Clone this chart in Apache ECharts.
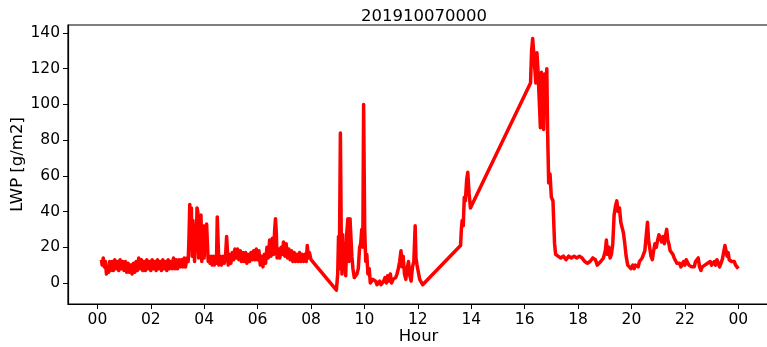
<!DOCTYPE html>
<html>
<head>
<meta charset="utf-8">
<script src="https://cdn.jsdelivr.net/npm/echarts@6/dist/echarts.min.js"></script>
<style>
  html, body { margin: 0; padding: 0; background: #fff; }
  #main { width: 767px; height: 347px; }
</style>
</head>
<body>
<div id="main"></div>
<script>
// time of day (hours) and LWP (g/m2)
const hours = [
  0.15, 0.18, 0.22, 0.26, 0.3, 0.34, 0.38, 0.42, 0.46, 0.5, 0.55, 0.6, 0.65, 0.7, 0.75, 0.8, 0.85, 0.9, 0.95,
  1.0, 1.05, 1.1, 1.15, 1.2, 1.25, 1.3, 1.35, 1.4, 1.45, 1.5, 1.55, 1.6, 1.65, 1.7, 1.75, 1.8, 1.85, 1.9, 1.95,
  2.0, 2.05, 2.1, 2.15, 2.2, 2.25, 2.3, 2.35, 2.4, 2.45, 2.5, 2.55, 2.6, 2.65, 2.7, 2.75, 2.8, 2.85, 2.9, 2.95,
  3.0, 3.05, 3.1, 3.15, 3.2, 3.25, 3.3, 3.35, 3.4,
  3.43, 3.46, 3.49, 3.52, 3.55, 3.58, 3.61, 3.64, 3.67, 3.7, 3.73, 3.76, 3.79, 3.82, 3.85, 3.88, 3.91, 3.94, 3.97,
  4.0, 4.03, 4.06, 4.09, 4.12, 4.15, 4.18, 4.22,
  4.26, 4.3, 4.34, 4.38, 4.42, 4.46, 4.49, 4.52, 4.55, 4.6, 4.65, 4.7, 4.75, 4.8, 4.84, 4.87, 4.9, 4.95,
  5.0, 5.05, 5.1, 5.15, 5.2, 5.25, 5.3, 5.35, 5.4, 5.45, 5.5, 5.55, 5.6, 5.65, 5.7, 5.75, 5.8, 5.85, 5.9, 5.95,
  6.0, 6.05, 6.1, 6.15, 6.2, 6.25, 6.3, 6.35, 6.4, 6.45, 6.5, 6.55, 6.6, 6.64, 6.67, 6.7, 6.73, 6.78, 6.83, 6.88, 6.93, 6.97,
  7.02, 7.07, 7.12, 7.17, 7.22, 7.27, 7.32, 7.37, 7.42, 7.47, 7.52, 7.57, 7.62, 7.67, 7.72, 7.77, 7.82, 7.86, 7.9, 7.94, 8.0,
  8.95,
  9.0, 9.03, 9.06, 9.1, 9.13, 9.16, 9.19, 9.22, 9.26, 9.3, 9.34, 9.38, 9.42, 9.46, 9.5, 9.53, 9.57, 9.62, 9.67, 9.72, 9.77, 9.82, 9.86, 9.9, 9.94, 9.97,
  10.01, 10.05, 10.09, 10.13, 10.18, 10.22, 10.27, 10.32, 10.37, 10.42, 10.47, 10.52, 10.57, 10.62, 10.67, 10.72, 10.77, 10.82, 10.87, 10.92, 10.97,
  11.02, 11.07, 11.12, 11.17, 11.22, 11.27, 11.32, 11.37, 11.41, 11.45, 11.5, 11.55, 11.6, 11.65, 11.7, 11.75, 11.8, 11.85, 11.9, 11.93, 11.97,
  12.02, 12.07, 12.12, 12.18,
  13.6, 13.63, 13.66, 13.7, 13.74, 13.78, 13.83, 13.87, 13.92, 13.97,
  16.22, 16.26, 16.3, 16.34, 16.38, 16.42, 16.46, 16.5, 16.55, 16.59, 16.63, 16.67, 16.71, 16.75, 16.79, 16.83, 16.86, 16.9, 16.95,
  17.0, 17.06, 17.12, 17.16, 17.25, 17.35, 17.45, 17.55, 17.65, 17.75, 17.85, 17.95,
  18.05, 18.15, 18.25, 18.35, 18.45, 18.55, 18.65, 18.72, 18.78, 18.85, 18.95,
  19.02, 19.06, 19.1, 19.15, 19.2, 19.25, 19.3, 19.35, 19.4, 19.45, 19.5, 19.55, 19.6, 19.65, 19.7, 19.75, 19.8, 19.86, 19.92, 19.98,
  20.05, 20.1, 20.15, 20.2, 20.25, 20.3, 20.35, 20.4, 20.45, 20.5, 20.55, 20.6, 20.64, 20.68, 20.73, 20.78, 20.83, 20.88, 20.93, 20.98,
  21.03, 21.08, 21.13, 21.18, 21.23, 21.28, 21.32, 21.36, 21.4, 21.45, 21.5, 21.55, 21.6, 21.65, 21.7, 21.75, 21.8, 21.85, 21.9, 21.95,
  22.0, 22.05, 22.1, 22.15, 22.2, 22.25, 22.3, 22.35, 22.4, 22.45, 22.5, 22.55, 22.6, 22.65, 22.7, 22.75, 22.8, 22.85, 22.9, 22.95,
  23.0, 23.05, 23.1, 23.15, 23.2, 23.25, 23.3, 23.35, 23.4, 23.45, 23.5, 23.54, 23.58, 23.62, 23.66, 23.7, 23.75, 23.8, 23.85, 23.9, 23.95, 24.0
];
const lwp = [
  13, 10, 14, 9, 12, 5, 9, 6, 12, 7, 12, 7, 13, 8, 12, 7, 13, 8, 12,
  7, 12, 6, 11, 6, 10, 5, 11, 6, 12, 7, 14, 8, 13, 7, 12, 7, 13, 8, 12,
  7, 13, 8, 12, 7, 13, 8, 12, 7, 13, 8, 12, 7, 13, 8, 12, 8, 14, 8, 13,
  8, 13, 9, 13, 9, 14, 9, 14, 12,
  25, 44, 30, 42, 15, 35, 22, 12, 28, 18, 42, 40, 14, 30, 18, 38, 12, 32, 33,
  14, 32, 20, 33, 32, 12, 15, 11,
  15, 10, 15, 10, 15, 11, 37, 36, 10, 15, 10, 15, 11, 15, 26, 27, 10, 16,
  11, 17, 13, 19, 14, 19, 13, 18, 12, 17, 12, 17, 11, 16, 12, 17, 13, 18, 13, 19,
  13, 18, 10, 15, 9, 16, 11, 20, 14, 24, 15, 25, 16, 30, 36, 28, 14, 19, 14, 20, 16, 23,
  15, 22, 14, 19, 13, 18, 12, 17, 12, 16, 12, 17, 12, 16, 12, 16, 12, 21, 14, 17, 13,
  -4,
  5, 26, 8, 84, 30, 5, 27, 10, 22, 4, 28, 36, 12, 36, 35, 15, 8, 3, 2, 5, 8, 20, 22, 30, 20, 100,
  30, 12, 16, 5, 8, 0, -1, 2, 3, 1, -1, -2, 1, -1, -2, 1, 3, 0, 4, 1, 5,
  0, 2, 1, 3, 5, 8, 12, 18, 9, 15, 5, 2, 8, 12, 4, 1, 9, 12, 32, 14, 10,
  6, 2, 1, -1,
  21, 30, 35, 32, 48, 46, 58, 62, 50, 42,
  112, 130, 137, 129, 120, 112, 129, 119, 120, 87, 118, 112, 86, 117, 108, 120, 84, 56, 61,
  48, 46, 22, 16, 15, 14, 15, 13, 15, 14, 15, 14,
  15, 14, 12, 11, 12, 14, 13, 10, 9, 12, 14,
  18, 24, 16, 20, 14, 16, 22, 38, 43, 46, 40, 42, 34, 31, 28, 22, 15, 10, 9, 8,
  10, 8, 10, 11, 9, 12, 11, 14, 13, 18, 26, 34, 24, 20, 15, 13, 18, 22, 20, 24,
  27, 28, 23, 26, 22, 27, 30, 24, 22, 18, 19, 16, 14, 13, 11, 10, 11, 9, 10, 12,
  10, 13, 14, 10, 11, 9, 10, 9, 12, 13, 14, 9, 7, 9, 8, 10, 9, 11, 10, 12,
  10, 11, 12, 10, 13, 14, 9, 11, 13, 17, 21, 18, 15, 17, 13, 14, 12, 11, 12, 10, 9, 8
];
const xTicks = [0, 2, 4, 6, 8, 10, 12, 14, 16, 18, 20, 22, 24];
const yTicks = [0, 20, 40, 60, 80, 100, 120, 140];

const font = 'DejaVu Sans';
const chart = echarts.init(document.getElementById('main'));
chart.setOption({
  animation: false,
  backgroundColor: '#fff',
  title: {
    text: '201910070000',
    left: 419,
    top: 3,
    textAlign: 'center',
    textStyle: { fontFamily: font, fontSize: 16.5, fontWeight: 'normal', color: '#000' }
  },
  grid: {
    left: 68, right: -2, top: 25, bottom: 43,
    outerBoundsMode: 'none',
    containLabel: false,
    show: true, borderColor: '#000', borderWidth: 1.2, backgroundColor: 'transparent'
  },
  xAxis: {
    type: 'value',
    min: -1.1,
    max: 25.15,
    name: 'Hour',
    nameLocation: 'middle',
    nameGap: 24,
    nameMoveOverlap: false,
    nameTextStyle: { fontFamily: font, fontSize: 16.5, color: '#000' },
    axisLine: { show: true, onZero: false, lineStyle: { color: '#000', width: 1.2 } },
    axisTick: { show: true, length: 5, customValues: xTicks, lineStyle: { color: '#000' } },
    axisLabel: {
      customValues: xTicks,
      margin: 8,
      fontFamily: font, fontSize: 15.5, color: '#000',
      formatter: v => String(v % 24).padStart(2, '0')
    },
    splitLine: { show: false }
  },
  yAxis: {
    type: 'value',
    min: -11.8,
    max: 144.5,
    name: 'LWP [g/m2]',
    nameLocation: 'middle',
    nameGap: 42,
    nameRotate: 90,
    nameMoveOverlap: false,
    nameTextStyle: { fontFamily: font, fontSize: 16.5, color: '#000' },
    axisLine: { show: true, onZero: false, lineStyle: { color: '#000', width: 1.2 } },
    axisTick: { show: true, length: 5, customValues: yTicks, lineStyle: { color: '#000' } },
    axisLabel: {
      customValues: yTicks,
      margin: 8,
      fontFamily: font, fontSize: 15.5, color: '#000'
    },
    splitLine: { show: false }
  },
  series: [{
    type: 'line',
    data: hours.map((h, i) => [h, lwp[i]]),
    showSymbol: false,
    lineStyle: { color: '#ff0000', width: 3.5, join: 'round' },
    itemStyle: { color: '#ff0000' }
  }]
});
</script>
</body>
</html>
